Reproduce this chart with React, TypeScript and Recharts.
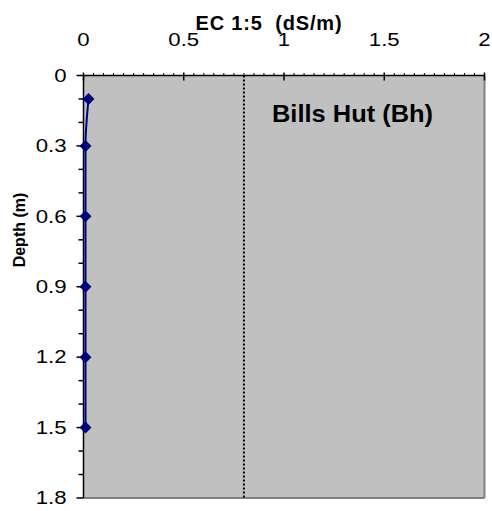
import React from 'react';
import { ComposedChart, Scatter, XAxis, YAxis, ReferenceLine, ReferenceArea } from 'recharts';

const depth = [0.1, 0.3, 0.6, 0.9, 1.2, 1.5];
const ec = [0.025, 0.01, 0.01, 0.01, 0.01, 0.01];
const xMajor = [0, 0.5, 1, 1.5, 2];
const yMajor = [0, 0.3, 0.6, 0.9, 1.2, 1.5, 1.8];
const xMinor = Array.from({ length: 41 }, (_, i) => Math.round(i * 5) / 100);
const yMinor = Array.from({ length: 19 }, (_, i) => Math.round(i * 10) / 100);
const guide = 0.8;
const xTitle = 'EC 1:5  (dS/m)';
const yTitle = 'Depth (m)';
const siteLabel = 'Bills Hut (Bh)';

const data = depth.map((d, i) => ({ depth: d, ec: ec[i] }));

const FONT = '"Liberation Sans", Arial, sans-serif';

const isIn = (arr: number[], v: number) => arr.some((a) => Math.abs(a - v) < 1e-6);

const XTick = (props: any) => {
  const { x, y, payload } = props;
  const v = payload.value;
  const major = isIn(xMajor, v);
  return (
    <g>
      <line x1={x} x2={x} y1={major ? y - 3 : y - 2.5} y2={major ? y + 5 : y} stroke="#000" strokeWidth={major ? 1.5 : 1} />
      {major && (
        <text transform={`translate(${x},45.5) scale(1.2,1)`} x={0} y={0} textAnchor="middle" fontSize={18.5} fontFamily={FONT} fill="#000">
          {String(v)}
        </text>
      )}
    </g>
  );
};

const YTick = (props: any) => {
  const { x, y, payload } = props;
  const v = payload.value;
  const major = isIn(yMajor, v);
  return (
    <g>
      <line x1={major ? x - 7 : x - 5} x2={x} y1={y} y2={y} stroke="#000" strokeWidth={1.5} />
      {major && (
        <text transform={`translate(${x - 17},${y + 6.3}) scale(1.2,1)`} x={0} y={0} textAnchor="end" fontSize={18.5} fontFamily={FONT} fill="#000">
          {String(v)}
        </text>
      )}
    </g>
  );
};

const Diamond = (props: any) => {
  const { cx, cy } = props;
  const r = 6;
  return <polygon points={`${cx},${cy - r} ${cx + r},${cy} ${cx},${cy + r} ${cx - r},${cy}`} fill="#000080" />;
};

export default function App() {
  return (
    <div style={{ position: 'absolute', left: 0, top: 0, width: 492, height: 511, background: '#fff' }}>
      <ComposedChart width={492} height={511} data={data} margin={{ top: 0, left: 0, right: 7.5, bottom: 13 }}>
        <XAxis
          xAxisId="x"
          type="number"
          dataKey="ec"
          orientation="top"
          domain={[0, 2]}
          ticks={xMinor}
          interval={0}
          tickSize={0}
          tickMargin={0}
          height={75.5}
          axisLine={{ stroke: '#000', strokeWidth: 1.5 }}
          tickLine={false}
          tick={<XTick />}
        />
        <YAxis
          yAxisId="y"
          type="number"
          dataKey="depth"
          domain={[0, 1.8]}
          reversed
          ticks={yMinor}
          interval={0}
          tickSize={0}
          tickMargin={0}
          width={83.5}
          axisLine={{ stroke: '#000', strokeWidth: 1.5 }}
          tickLine={false}
          tick={<YTick />}
        />
        <ReferenceArea xAxisId="x" yAxisId="y" x1={0} x2={2} y1={0} y2={1.8} fill="#c0c0c0" fillOpacity={1} stroke="none" />
        <ReferenceLine xAxisId="x" yAxisId="y" y={1.8} stroke="#808080" strokeWidth={2} />
        <ReferenceLine xAxisId="x" yAxisId="y" x={2} stroke="#808080" strokeWidth={2} />
        <ReferenceLine xAxisId="x" yAxisId="y" x={guide} stroke="#000" strokeWidth={2} strokeDasharray="2 2" />
        <Scatter
          xAxisId="x"
          yAxisId="y"
          data={data}
          dataKey="ec"
          fill="#000080"
          line={{ stroke: '#000080', strokeWidth: 2 }}
          lineJointType="monotoneY"
          shape={<Diamond />}
          isAnimationActive={false}
        />
      </ComposedChart>
      <svg width={492} height={511} style={{ position: 'absolute', left: 0, top: 0, pointerEvents: 'none' }}>
        <text x={269} y={29.5} textAnchor="middle" fontSize={20} fontWeight="bold" fontFamily={FONT} letterSpacing={0.8} style={{ whiteSpace: 'pre' }} fill="#000">
          {xTitle}
        </text>
        <text transform="translate(272,122) scale(1.06,1)" x={0} y={0} textAnchor="start" fontSize={24} fontWeight="bold" fontFamily={FONT} fill="#000">
          {siteLabel}
        </text>
        <text x={24.5} y={230} transform="rotate(-90, 24.5, 230)" textAnchor="middle" fontSize={16} fontWeight="bold" fontFamily={FONT} fill="#000">
          {yTitle}
        </text>
      </svg>
    </div>
  );
}
